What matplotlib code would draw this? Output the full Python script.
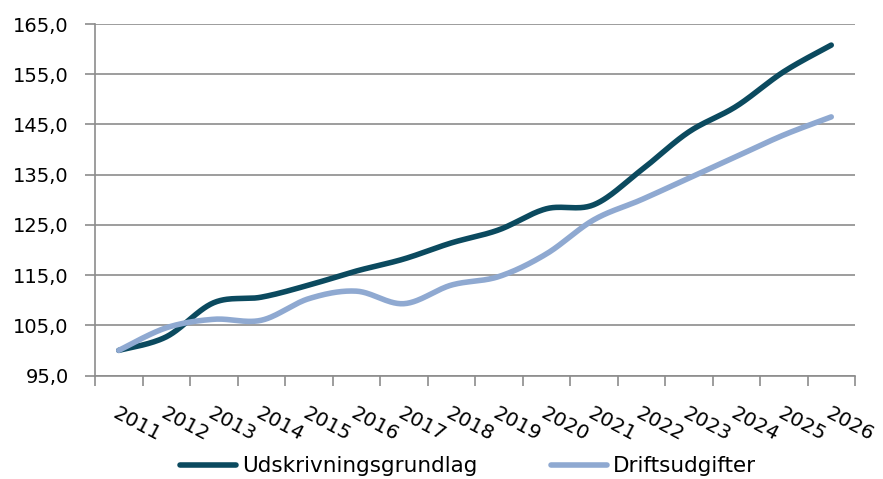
import numpy as np
import matplotlib
matplotlib.use("Agg")
import matplotlib.pyplot as plt
from matplotlib.ticker import FuncFormatter

years = [str(y) for y in range(2011, 2027)]
udskrivning = [100.0, 102.7, 109.5, 110.6, 113.0, 115.8, 118.2, 121.4, 124.0, 128.2, 129.0,
               135.9, 143.5, 148.6, 155.5, 160.8]
drift = [100.0, 104.5, 106.2, 106.0, 110.3, 111.8, 109.3, 113.0, 114.7, 119.2, 126.0,
         130.0, 134.3, 138.6, 142.9, 146.5]

dark = "#0b4a5f"
light = "#8fa9d1"
grid = "#8c8c8c"


def smooth(x, y, n=30):
    # excel style smoothing (bezier through the points)
    x = np.asarray(x, float)
    y = np.asarray(y, float)
    px = np.concatenate([[x[0]], x, [x[-1]]])
    py = np.concatenate([[y[0]], y, [y[-1]]])
    xs, ys = [], []
    t = np.linspace(0, 1, n)
    for i in range(1, len(px) - 2):
        p0 = np.array([px[i], py[i]])
        p3 = np.array([px[i + 1], py[i + 1]])
        p1 = p0 + (p3 - np.array([px[i - 1], py[i - 1]])) / 6
        p2 = p3 - (np.array([px[i + 2], py[i + 2]]) - p0) / 6
        b = ((1 - t) ** 3)[:, None] * p0 + (3 * (1 - t) ** 2 * t)[:, None] * p1 \
            + (3 * (1 - t) * t ** 2)[:, None] * p2 + (t ** 3)[:, None] * p3
        xs.extend(b[:, 0])
        ys.extend(b[:, 1])
    return np.array(xs), np.array(ys)


plt.rcParams["font.family"] = "DejaVu Sans"
fig = plt.figure(figsize=(8.83, 4.79), dpi=100)
ax = fig.add_axes([95 / 883, 1 - 375.5 / 479, 760 / 883, 351.5 / 479])

xi = np.arange(len(years))
sx, sy = smooth(xi, udskrivning)
ax.plot(sx, sy, color=dark, lw=4.0, solid_capstyle="round", label="Udskrivningsgrundlag")
sx, sy = smooth(xi, drift)
ax.plot(sx, sy, color=light, lw=4.0, solid_capstyle="round", label="Driftsudgifter")

ax.set_xlim(-0.5, len(years) - 0.5)
ax.set_ylim(95, 165)
ax.set_yticks(np.arange(95, 166, 10))
ax.yaxis.set_major_formatter(FuncFormatter(lambda v, p: f"{v:.1f}".replace(".", ",")))
ax.grid(axis="y", color=grid, lw=1.2)
ax.set_axisbelow(True)

ax.set_xticks(np.arange(-0.5, len(years), 1))
ax.set_xticklabels([])
ax.set_xticks(xi, minor=True)
ax.set_xticklabels(years, minor=True, rotation=-28, rotation_mode="anchor",
                   ha="left", va="top", fontsize=14.5)
ax.tick_params(axis="x", which="minor", length=0, pad=20)
ax.tick_params(axis="x", which="major", length=7, color=grid, width=1.2)
ax.tick_params(axis="y", length=7, color=grid, width=1.2, labelsize=14, pad=12)

for s in ["top", "right"]:
    ax.spines[s].set_visible(False)
for s in ["left", "bottom"]:
    ax.spines[s].set_color(grid)
    ax.spines[s].set_linewidth(1.2)

fig.legend(loc="lower center", bbox_to_anchor=(0.53, -0.035), ncol=2, frameon=False,
           fontsize=15.5, handlelength=2.6, handletextpad=0.3, columnspacing=3.4)

fig.savefig("out.png", dpi=100)
